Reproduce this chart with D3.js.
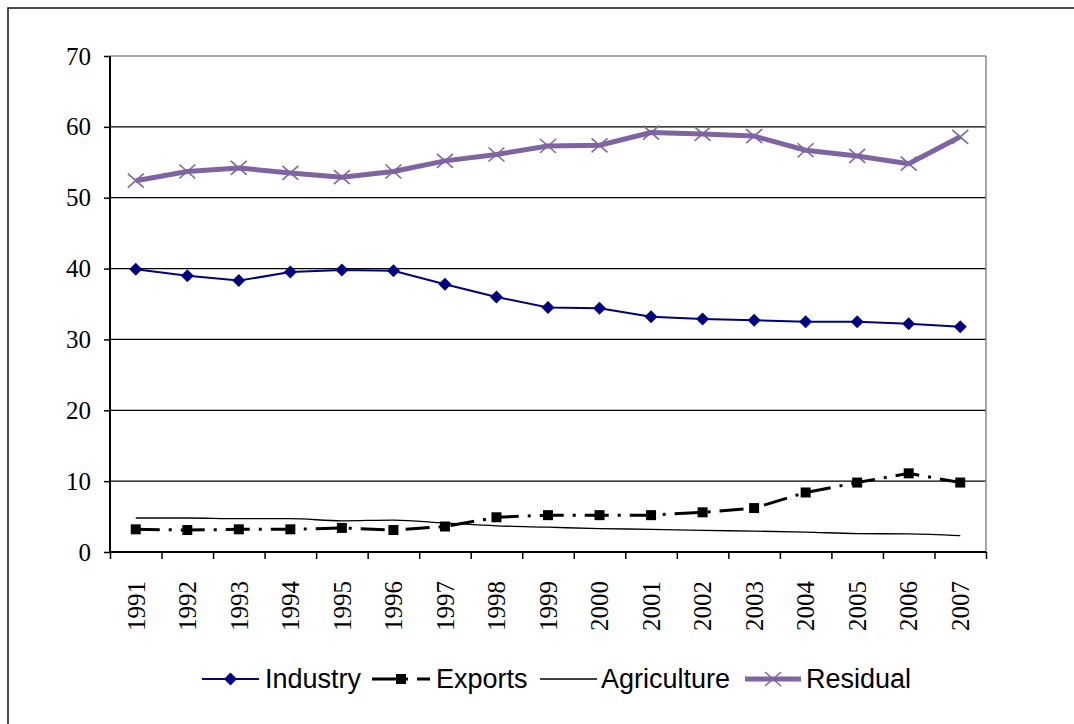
<!DOCTYPE html>
<html>
<head>
<meta charset="utf-8">
<script src="https://cdn.jsdelivr.net/npm/d3@7/dist/d3.min.js"></script>
<style>
  html, body { margin: 0; padding: 0; background: #fff; }
  svg { display: block; }
</style>
</head>
<body>
<svg id="chart" width="1074" height="724"></svg>
<script>
const years = ["1991","1992","1993","1994","1995","1996","1997","1998","1999","2000","2001","2002","2003","2004","2005","2006","2007"];
const industry = [39.9, 39.0, 38.3, 39.5, 39.8, 39.7, 37.8, 36.0, 34.5, 34.4, 33.2, 32.9, 32.7, 32.5, 32.5, 32.2, 31.8];
const exportsV = [3.2, 3.1, 3.2, 3.2, 3.4, 3.1, 3.6, 4.9, 5.2, 5.2, 5.2, 5.6, 6.2, 8.4, 9.8, 11.1, 9.8];
const agriculture = [4.8, 4.8, 4.7, 4.7, 4.4, 4.5, 4.1, 3.7, 3.5, 3.3, 3.2, 3.05, 2.95, 2.8, 2.6, 2.55, 2.3];
const residual = [52.4, 53.7, 54.2, 53.5, 52.9, 53.7, 55.2, 56.1, 57.3, 57.4, 59.2, 59.0, 58.7, 56.7, 55.9, 54.8, 58.6];
const yTicks = [0, 10, 20, 30, 40, 50, 60, 70];
const legendLabels = ["Industry", "Exports", "Agriculture", "Residual"];

const svg = d3.select("#chart");
const L = 110, R = 986, T = 56, B = 552;

// outer frame (only top/left visible)
svg.append("rect").attr("x", 8).attr("y", 8).attr("width", 1200).attr("height", 900)
  .attr("fill", "none").attr("stroke", "#111").attr("stroke-width", 1.5);

const x = d3.scaleBand().domain(years).range([L, R]).paddingInner(0).paddingOuter(0);
const cx = d => x(d) + x.bandwidth() / 2;
const y = d3.scaleLinear().domain([0, 70]).range([B, T]);
const xb = d3.scaleLinear().domain([0, years.length]).range([L, R]);

// gridlines
svg.append("g").selectAll("line").data(yTicks.filter(v => v > 0 && v < 70)).join("line")
  .attr("x1", L).attr("x2", R).attr("y1", d => y(d)).attr("y2", d => y(d))
  .attr("stroke", "#000").attr("stroke-width", 1.3);
// plot area border (top, right)
svg.append("line").attr("x1", L).attr("x2", R).attr("y1", y(70)).attr("y2", y(70))
  .attr("stroke", "#888").attr("stroke-width", 1.5);
svg.append("line").attr("x1", R).attr("x2", R).attr("y1", T).attr("y2", B)
  .attr("stroke", "#888").attr("stroke-width", 1.5);

// y axis
const yAxis = svg.append("g").attr("transform", `translate(${L},0)`)
  .call(d3.axisLeft(y).tickValues(yTicks).tickSize(6).tickPadding(13).tickFormat(d3.format("d")));
yAxis.select(".domain").attr("stroke", "#000").attr("stroke-width", 2).attr("d", `M0,${T}V${B}`);
yAxis.selectAll(".tick line").attr("stroke", "#000").attr("stroke-width", 1.5);
yAxis.selectAll("text").attr("font-family", "'Liberation Serif', 'Times New Roman', serif")
  .attr("font-size", 25).attr("fill", "#000");

// x axis ticks at boundaries
const xAxis = svg.append("g").attr("transform", `translate(0,${B})`)
  .call(d3.axisBottom(xb).tickValues(d3.range(years.length + 1)).tickSize(7).tickFormat(""));
xAxis.select(".domain").attr("stroke", "#000").attr("stroke-width", 2).attr("d", `M${L},0H${R}`);
xAxis.selectAll(".tick line").attr("stroke", "#000").attr("stroke-width", 1.5);

// x labels rotated
const xLab = svg.append("g").attr("transform", `translate(0,${B})`)
  .call(d3.axisBottom(x).tickSize(0).tickPadding(0));
xLab.select(".domain").remove();
xLab.selectAll("text")
  .attr("font-family", "'Liberation Serif', 'Times New Roman', serif")
  .attr("font-size", 25).attr("fill", "#000")
  .attr("text-anchor", "end")
  .attr("transform", "translate(0,29) rotate(-90)")
  .attr("x", 0).attr("y", 0).attr("dy", "0.35em");

const line = vals => d3.line().x((d, i) => cx(years[i])).y(d => y(d))(vals);

// Industry
svg.append("path").attr("d", line(industry)).attr("fill", "none")
  .attr("stroke", "#000080").attr("stroke-width", 2);
const diamond = "M0,-6.5L6.5,0L0,6.5L-6.5,0Z";
svg.append("g").selectAll("path").data(industry).join("path")
  .attr("transform", (d, i) => `translate(${cx(years[i])},${y(d)})`)
  .attr("d", diamond).attr("fill", "#000080");

// Exports
svg.append("path").attr("d", line(exportsV)).attr("fill", "none")
  .attr("stroke", "#000").attr("stroke-width", 3).attr("stroke-dasharray", "24,9,3,9");
svg.append("g").selectAll("rect").data(exportsV).join("rect")
  .attr("x", (d, i) => cx(years[i]) - 5).attr("y", d => y(d) - 5)
  .attr("width", 10).attr("height", 10).attr("fill", "#000");

// Agriculture
svg.append("path").attr("d", d3.line().x((d, i) => cx(years[i])).y(d => y(d)).curve(d3.curveMonotoneX)(agriculture))
  .attr("fill", "none").attr("stroke", "#000").attr("stroke-width", 1.3);

// Residual
const purple = "#8064A2";
svg.append("path").attr("d", line(residual)).attr("fill", "none")
  .attr("stroke", purple).attr("stroke-width", 5).attr("stroke-linejoin", "round");
const cross = "M-8,-7L8,7M-8,7L8,-7";
svg.append("g").selectAll("path").data(residual).join("path")
  .attr("transform", (d, i) => `translate(${cx(years[i])},${y(d)})`)
  .attr("d", cross).attr("stroke", purple).attr("stroke-width", 1.6).attr("fill", "none");

// Legend
const ly = 679;
const leg = svg.append("g");
const items = [
  {x1: 202, x2: 259, tx: 265},
  {x1: 372, x2: 430, tx: 436},
  {x1: 540, x2: 597, tx: 601},
  {x1: 745, x2: 801, tx: 806}
];
// Industry
leg.append("line").attr("x1", items[0].x1).attr("x2", items[0].x2).attr("y1", ly).attr("y2", ly)
  .attr("stroke", "#000080").attr("stroke-width", 2);
leg.append("path").attr("transform", `translate(${(items[0].x1 + items[0].x2) / 2},${ly})`)
  .attr("d", diamond).attr("fill", "#000080");
// Exports
leg.append("line").attr("x1", items[1].x1).attr("x2", items[1].x2).attr("y1", ly).attr("y2", ly)
  .attr("stroke", "#000").attr("stroke-width", 3).attr("stroke-dasharray", "24,9,3,9");
leg.append("rect").attr("x", (items[1].x1 + items[1].x2) / 2 - 5).attr("y", ly - 5)
  .attr("width", 10).attr("height", 10).attr("fill", "#000");
// Agriculture
leg.append("line").attr("x1", items[2].x1).attr("x2", items[2].x2).attr("y1", ly).attr("y2", ly)
  .attr("stroke", "#000").attr("stroke-width", 1.3);
// Residual
leg.append("line").attr("x1", items[3].x1).attr("x2", items[3].x2).attr("y1", ly).attr("y2", ly)
  .attr("stroke", purple).attr("stroke-width", 5);
leg.append("path").attr("transform", `translate(${(items[3].x1 + items[3].x2) / 2},${ly})`)
  .attr("d", cross).attr("stroke", purple).attr("stroke-width", 1.6).attr("fill", "none");

leg.selectAll("text.lbl").data(legendLabels).join("text").attr("class", "lbl")
  .attr("x", (d, i) => items[i].tx).attr("y", ly).attr("dy", "0.35em")
  .attr("font-family", "'Liberation Sans', Arial, sans-serif").attr("font-size", 27)
  .attr("fill", "#000").text(d => d);
</script>
</body>
</html>
